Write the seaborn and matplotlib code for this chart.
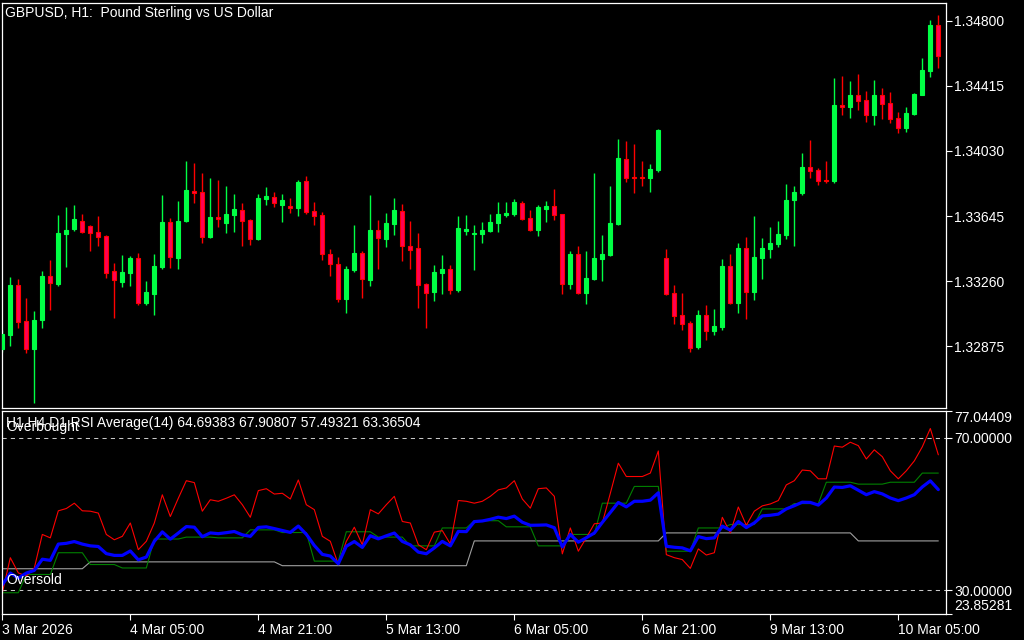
import numpy as np
import pandas as pd
import seaborn as sns
import matplotlib.pyplot as plt
import matplotlib.transforms as mtransforms

# GBPUSD H1 bars, 3 Mar 13:00 .. 10 Mar 10:00
open_ = [1.32857, 1.32940, 1.33236, 1.33023, 1.32857, 1.33029, 1.33289, 1.33242, 1.33538, 1.33567,
         1.33615, 1.33585, 1.33550, 1.33526, 1.33319, 1.33254, 1.33307, 1.33396, 1.33129, 1.33182,
         1.33342, 1.33609, 1.33396, 1.33615, 1.33792, 1.33786, 1.33520, 1.33638, 1.33603, 1.33650,
         1.33680, 1.33621, 1.33508, 1.33745, 1.33757, 1.33709, 1.33703, 1.33692, 1.33851, 1.33674,
         1.33650, 1.33419, 1.33360, 1.33153, 1.33325, 1.33425, 1.33265, 1.33561, 1.33508, 1.33597,
         1.33674, 1.33467, 1.33455, 1.33242, 1.33194, 1.33307, 1.33330, 1.33206, 1.33555, 1.33538,
         1.33538, 1.33555, 1.33603, 1.33650, 1.33656, 1.33721, 1.33632, 1.33561, 1.33686, 1.33703,
         1.33656, 1.33242, 1.33419, 1.33188, 1.33271, 1.33390, 1.33413, 1.33597, 1.33982, 1.33875,
         1.33875, 1.33869, 1.33917, 1.33396, 1.33188, 1.33058, 1.33011, 1.32869, 1.33058, 1.32963,
         1.32987, 1.33348, 1.33129, 1.33455, 1.33194, 1.33396, 1.33449, 1.33479, 1.33532, 1.33739,
         1.33780, 1.33934, 1.33917, 1.33857, 1.33851, 1.34301, 1.34290, 1.34361, 1.34331, 1.34242,
         1.34361, 1.34313, 1.34224, 1.34165, 1.34248, 1.34361, 1.34503, 1.34775]
high = [1.32969, 1.33283, 1.33271, 1.33159, 1.33082, 1.33319, 1.33384, 1.33650, 1.33698, 1.33709,
        1.33656, 1.33590, 1.33644, 1.33532, 1.33366, 1.33413, 1.33407, 1.33425, 1.33259, 1.33419,
        1.33769, 1.33632, 1.33733, 1.33970, 1.33958, 1.33899, 1.33869, 1.33857, 1.33822, 1.33775,
        1.33721, 1.33627, 1.33775, 1.33816, 1.33786, 1.33775, 1.33751, 1.33857, 1.33881, 1.33727,
        1.33668, 1.33449, 1.33402, 1.33348, 1.33591, 1.33437, 1.33769, 1.33621, 1.33662, 1.33751,
        1.33715, 1.33615, 1.33544, 1.33248, 1.33354, 1.33413, 1.33354, 1.33644, 1.33650, 1.33591,
        1.33609, 1.33656, 1.33727, 1.33727, 1.33745, 1.33733, 1.33680, 1.33709, 1.33733, 1.33804,
        1.33660, 1.33437, 1.33467, 1.33437, 1.33899, 1.33532, 1.33822, 1.34100, 1.34088, 1.34070,
        1.33970, 1.33952, 1.34158, 1.33449, 1.33236, 1.33188, 1.33023, 1.33088, 1.33117, 1.33094,
        1.33390, 1.33419, 1.33484, 1.33520, 1.33644, 1.33514, 1.33579, 1.33615, 1.33834, 1.33822,
        1.34017, 1.34094, 1.33928, 1.33970, 1.34461, 1.34473, 1.34443, 1.34485, 1.34384, 1.34449,
        1.34402, 1.34378, 1.34260, 1.34290, 1.34370, 1.34580, 1.34805, 1.34834]
low = [1.32839, 1.32875, 1.32981, 1.32833, 1.32537, 1.32981, 1.33088, 1.33230, 1.33342, 1.33555,
       1.33544, 1.33437, 1.33467, 1.33277, 1.33040, 1.33224, 1.33230, 1.33117, 1.33117, 1.33058,
       1.33330, 1.33336, 1.33330, 1.33609, 1.33721, 1.33484, 1.33514, 1.33579, 1.33544, 1.33550,
       1.33467, 1.33473, 1.33502, 1.33709, 1.33698, 1.33609, 1.33662, 1.33644, 1.33656, 1.33591,
       1.33384, 1.33289, 1.33135, 1.33070, 1.33313, 1.33159, 1.33230, 1.33330, 1.33461, 1.33532,
       1.33378, 1.33330, 1.33100, 1.32981, 1.33141, 1.33182, 1.33182, 1.33194, 1.33532, 1.33325,
       1.33484, 1.33550, 1.33550, 1.33638, 1.33644, 1.33621, 1.33555, 1.33526, 1.33609, 1.33621,
       1.33182, 1.33212, 1.33182, 1.33123, 1.33265, 1.33259, 1.33407, 1.33591, 1.33846, 1.33780,
       1.33822, 1.33786, 1.33905, 1.33177, 1.33005, 1.32969, 1.32839, 1.32857, 1.32910, 1.32940,
       1.32969, 1.33125, 1.33070, 1.33034, 1.33147, 1.33271, 1.33396, 1.33461, 1.33508, 1.33467,
       1.33769, 1.33869, 1.33828, 1.33840, 1.33840, 1.34242, 1.34224, 1.34272, 1.34201, 1.34183,
       1.34218, 1.34195, 1.34136, 1.34142, 1.34242, 1.34358, 1.34467, 1.34520]
close = [1.32946, 1.33236, 1.33017, 1.32857, 1.33029, 1.33289, 1.33248, 1.33544, 1.33561, 1.33627,
         1.33550, 1.33544, 1.33520, 1.33307, 1.33265, 1.33313, 1.33396, 1.33129, 1.33194, 1.33348,
         1.33609, 1.33402, 1.33615, 1.33798, 1.33780, 1.33520, 1.33638, 1.33627, 1.33656, 1.33686,
         1.33615, 1.33508, 1.33751, 1.33763, 1.33721, 1.33739, 1.33692, 1.33846, 1.33668, 1.33644,
         1.33419, 1.33360, 1.33153, 1.33330, 1.33425, 1.33271, 1.33561, 1.33514, 1.33603, 1.33680,
         1.33467, 1.33443, 1.33236, 1.33188, 1.33313, 1.33330, 1.33206, 1.33573, 1.33567, 1.33544,
         1.33561, 1.33609, 1.33656, 1.33662, 1.33727, 1.33627, 1.33561, 1.33698, 1.33703, 1.33650,
         1.33242, 1.33419, 1.33188, 1.33277, 1.33396, 1.33419, 1.33603, 1.33988, 1.33869, 1.33869,
         1.33869, 1.33923, 1.34153, 1.33182, 1.33052, 1.33005, 1.32863, 1.33058, 1.32963, 1.32993,
         1.33348, 1.33129, 1.33455, 1.33194, 1.33402, 1.33455, 1.33484, 1.33538, 1.33739, 1.33786,
         1.33934, 1.33911, 1.33851, 1.33851, 1.34301, 1.34290, 1.34361, 1.34325, 1.34242, 1.34361,
         1.34307, 1.34218, 1.34165, 1.34254, 1.34367, 1.34509, 1.34775, 1.34592]

# RSI(14) on H1, per bar
rsi_h1 = [29.3, 38.5, 34.5, 33.7, 35.8, 44.6, 43.7, 50.8, 51.4, 52.8,
          50.8, 50.7, 50.2, 44.6, 43.2, 44.1, 47.6, 40.6, 42.8, 47.6,
          55.0, 49.3, 54.1, 58.7, 58.2, 50.7, 53.7, 53.3, 54.1, 55.0,
          52.4, 49.1, 56.1, 56.6, 55.2, 55.4, 53.9, 58.9, 52.4, 51.1,
          44.1, 42.8, 36.7, 42.8, 46.5, 41.9, 51.1, 50.0, 52.4, 54.6,
          48.0, 47.6, 41.9, 40.6, 45.2, 45.6, 42.1, 53.5, 53.3, 52.8,
          53.3, 54.6, 56.3, 56.8, 58.7, 53.9, 51.5, 56.6, 56.8, 54.6,
          39.5, 46.3, 40.2, 43.7, 47.4, 47.6, 55.4, 63.3, 59.8, 59.8,
          59.8, 60.7, 66.5, 39.3, 38.5, 38.0, 35.7, 40.8, 39.2, 39.8,
          49.1, 45.0, 51.8, 47.0, 50.7, 52.1, 52.6, 53.5, 57.6, 58.7,
          61.5, 61.3, 59.2, 59.2, 67.8, 67.5, 68.8, 67.9, 64.4, 66.8,
          65.0, 61.3, 59.2, 61.3, 63.9, 67.6, 72.4, 65.5]
# RSI(14) on H4, one value per H4 bar
rsi_h4 = [29.3, 34.1, 39.8, 36.7, 35.8, 43.4, 43.9, 43.7, 45.8, 45.1,
          37.6, 45.3, 43.9, 41.6, 46.3, 48.2, 46.6, 41.6, 44.6, 52.8,
          57.2, 40.2, 46.3, 47.2, 51.3, 52.7, 58.3, 57.8, 58.3, 60.7]
# RSI(14) on D1, one value per day
rsi_d1 = [35.6, 37.4, 36.4, 42.9, 45.0, 42.9]

price_ticks = [1.32875, 1.33260, 1.33645, 1.34030, 1.34415, 1.34800]
rsi_ticks = [23.85281, 30.0, 70.0, 77.04409]
time_labels = ["3 Mar 2026", "4 Mar 05:00", "4 Mar 21:00", "5 Mar 13:00",
               "6 Mar 05:00", "6 Mar 21:00", "9 Mar 13:00", "10 Mar 05:00"]

times = pd.DatetimeIndex(list(pd.date_range("2026-03-03 13:00", "2026-03-06 23:00", freq="h"))
                         + list(pd.date_range("2026-03-09 00:00", "2026-03-10 10:00", freq="h")))
h4_idx, _ = pd.factorize(times.floor("4h"))
d1_idx, _ = pd.factorize(times.floor("D"))

df = pd.DataFrame({"bar": np.arange(len(times)), "open": open_, "high": high,
                   "low": low, "close": close, "h1": rsi_h1})
df["h4"] = np.array(rsi_h4)[h4_idx]
df["d1"] = np.array(rsi_d1)[d1_idx]
df["avg"] = df[["h1", "h4", "d1"]].mean(axis=1)  # the indicator's "RSI Average"

sns.set_theme(style="dark", rc={"axes.facecolor": "black", "figure.facecolor": "black",
                                "axes.edgecolor": "white", "text.color": "white",
                                "xtick.color": "white", "ytick.color": "white"})
plt.rcParams["font.family"] = ["Liberation Sans", "DejaVu Sans"]
FS = 10

W, H = 1024, 640
fig = plt.figure(figsize=(W / 100, H / 100), dpi=100)
ax = fig.add_axes([2 / W, 1 - 408.3 / H, 944 / W, 405.3 / H])
ax2 = fig.add_axes([2 / W, 1 - 613.5 / H, 944 / W, 202.7 / H])

GREEN, RED_EDGE, RED_FILL = "#00ff44", "#ff0000", "#ff0055"
up = df["close"] >= df["open"]
edge = np.where(up, GREEN, RED_EDGE)
fill = np.where(up, GREEN, RED_FILL)

ax.vlines(df["bar"], df["low"], df["high"], colors=edge, linewidth=1.0, zorder=2)
body = (df["close"] - df["open"]).where((df["close"] - df["open"]).abs() > 1e-6, 2e-6)
ax.bar(df["bar"], body, bottom=df["open"], width=0.5, color=fill, edgecolor=edge,
       linewidth=0.8, zorder=3)

xlim = (-0.04, 117.96)
ax.set_xlim(*xlim)
ax.set_ylim(1.32508, 1.34905)
ax.yaxis.tick_right()
ax.set_yticks(price_ticks)
ax.set_yticklabels([f"{p:.5f}" for p in price_ticks])
ax.set_xticks([])
ax.tick_params(axis="y", length=4, width=0.8, pad=2, labelsize=FS, right=True)
for s in ax.spines.values():
    s.set_color("white")
    s.set_linewidth(0.9)
ax.grid(False)

# RSI panel
sns.lineplot(data=df, x="bar", y="d1", ax=ax2, color="#a0a0a0", linewidth=0.8)
sns.lineplot(data=df, x="bar", y="h4", ax=ax2, color="#008000", linewidth=0.8)
sns.lineplot(data=df, x="bar", y="h1", ax=ax2, color="#ff0000", linewidth=0.8)
sns.lineplot(data=df, x="bar", y="avg", ax=ax2, color="#0000ff", linewidth=2.3)
for lvl in (70, 30):
    ax2.axhline(lvl, color="#c8c8c8", linewidth=0.75, linestyle=(0, (4, 4)), zorder=1)

ax2.set_xlim(*xlim)
ax2.set_ylim(rsi_ticks[0], rsi_ticks[-1])
ax2.yaxis.tick_right()
ax2.set_yticks(rsi_ticks)
ax2.set_yticklabels([f"{v:.5f}" for v in rsi_ticks])
labs = ax2.get_yticklabels()
labs[0].set_va("bottom")
labs[-1].set_va("top")
ax2.set_xticks(np.arange(0, len(df), 16))
ax2.set_xticklabels(time_labels)
for lab in ax2.get_xticklabels():
    lab.set_ha("left")
ax2.tick_params(axis="y", length=4, width=0.8, pad=2, labelsize=FS, right=True)
ax2.tick_params(axis="x", length=4, width=0.8, pad=3, labelsize=FS, bottom=True)
ax2.set_xlabel("")
ax2.set_ylabel("")
for s in ax2.spines.values():
    s.set_color("white")
    s.set_linewidth(0.9)
ax2.grid(False)

blend = mtransforms.blended_transform_factory(ax2.transAxes, ax2.transData)
ax2.text(4 / 944, 1 - 12.2 / 202.7, "H1 H4 D1 RSI Average(14) 64.69383 67.90807 57.49321 63.36504",
         transform=ax2.transAxes, va="center", ha="left", fontsize=FS, color="white")
ax2.text(4 / 944, 70.9, "Overbought", transform=blend, va="bottom", ha="left",
         fontsize=FS, color="white")
ax2.text(4 / 944, 30.9, "Oversold", transform=blend, va="bottom", ha="left",
         fontsize=FS, color="white")

fig.text(5 / W, 1 - 12.5 / H, "GBPUSD, H1:  Pound Sterling vs US Dollar",
         va="center", ha="left", fontsize=FS, color="white")

fig.savefig("out.png", dpi=100, facecolor="black")
